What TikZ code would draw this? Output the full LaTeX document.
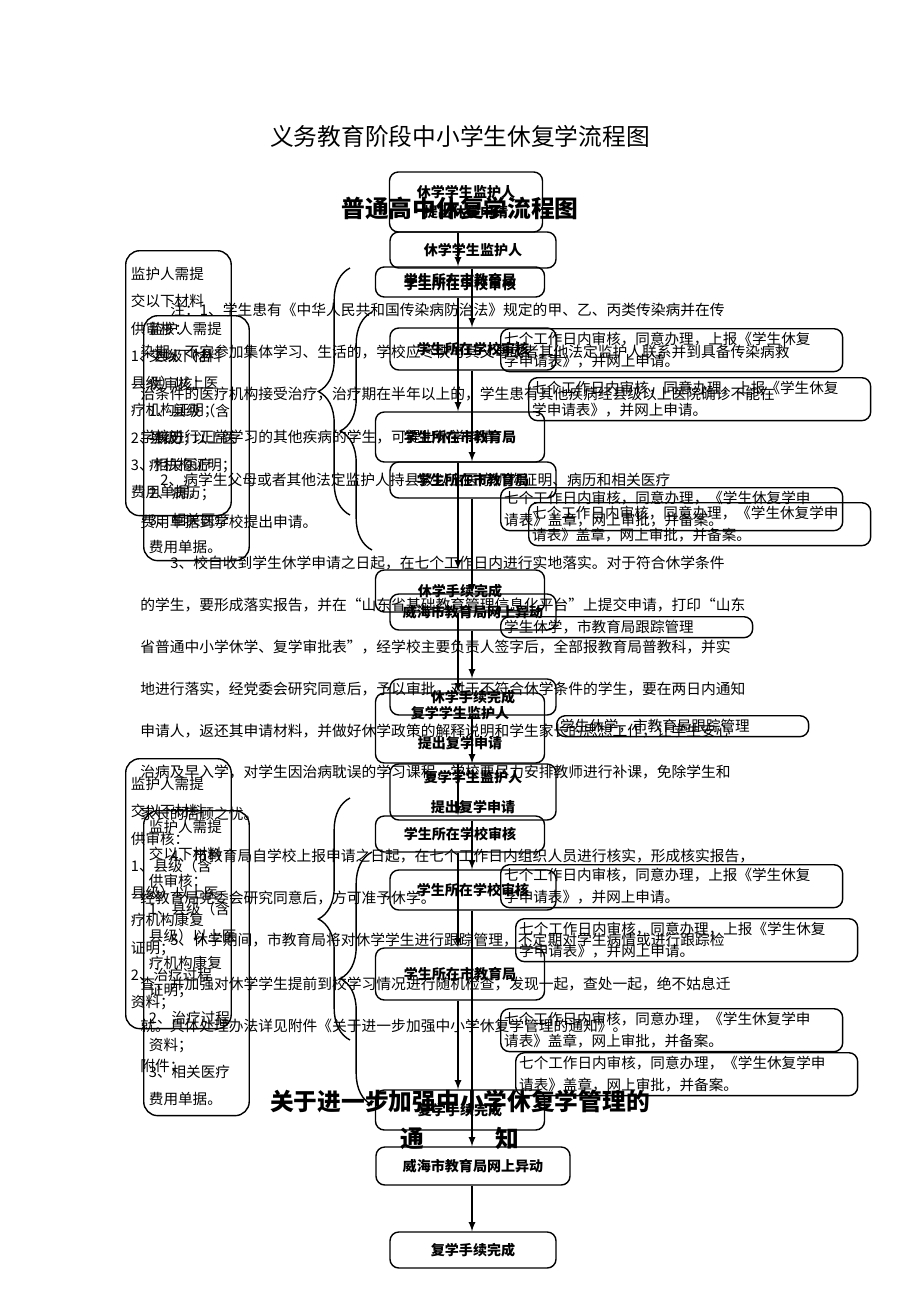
\documentclass[tikz,border=0pt]{standalone}
\usepackage{fontspec}
\setmainfont{Noto Sans CJK SC}
\usetikzlibrary{decorations.pathreplacing}
\tikzset{
  box/.style={draw, thick, rounded corners=5pt, inner sep=1pt, align=center,
    font=\fontsize{8}{11}\selectfont\bfseries},
  note/.style={draw, thick, rounded corners=5pt, inner sep=2pt, align=left,
    anchor=north west, font=\fontsize{8.3}{12.5}\selectfont},
  side/.style={draw, thick, rounded corners=8pt, anchor=north west, align=left,
    inner sep=3pt, text width=1.9cm, font=\fontsize{8.3}{15.5}\selectfont},
  para/.style={anchor=west, inner sep=0pt, font=\fontsize{8.4}{10}\selectfont},
  arr/.style={thick, -latex},
  brc/.style={thick, decorate, decoration={brace, amplitude=18pt}}
}
\newcommand\flowbox[6]{\node[box, minimum width=#4*0.02cm, minimum height=#5*0.02cm] (#1) at (#2,#3) {#6};}
\begin{document}
\begin{tikzpicture}[x=0.02cm, y=-0.02cm]
  \useasboundingbox (0,0) rectangle (920,1302);
  % titles
  \node[font=\fontsize{13.5}{15}\selectfont] (t1) at (460,136) {义务教育阶段中小学生休复学流程图};
  \node[font=\fontsize{13.5}{15}\selectfont\bfseries] (t2) at (460,208) {普通高中休复学流程图};

  % paragraph
  \node[para] (p1) at (170,310) {注：1、学生患有《中华人民共和国传染病防治法》规定的甲、乙、丙类传染病并在传};
  \node[para] (p2) at (140,352) {染期，不宜参加集体学习、生活的，学校应尽快与其父母或者其他法定监护人联系并到具备传染病救};
  \node[para] (p3) at (140,394) {治条件的医疗机构接受治疗，治疗期在半年以上的，学生患有其他疾病经县级以上医院确诊不能在};
  \node[para] (p4) at (140,437) {学校进行正常学习的其他疾病的学生，可提出休学申请};
  \node[para] (p5) at (160,480) {2、病学生父母或者其他法定监护人持县级以上医疗机构证明、病历和相关医疗};
  \node[para] (p6) at (140,522) {费用单据到学校提出申请。};
  \node[para] (p7) at (170,563) {3、校自收到学生休学申请之日起，在七个工作日内进行实地落实。对于符合休学条件};
  \node[para] (p8) at (140,605) {的学生，要形成落实报告，并在“山东省基础教育管理信息化平台”上提交申请，打印“山东};
  \node[para] (p9) at (140,647) {省普通中小学休学、复学审批表”，经学校主要负责人签字后，全部报教育局普教科，并实};
  \node[para] (p10) at (140,689) {地进行落实，经党委会研究同意后，予以审批。对于不符合休学条件的学生，要在两日内通知};
  \node[para] (p11) at (140,731) {申请人，返还其申请材料，并做好休学政策的解释说明和学生家长的思想工作，让学生安心};
  \node[para] (p12) at (140,772) {治病及早入学，对学生因治病耽误的学习课程，学校要尽力安排教师进行补课，免除学生和};
  \node[para] (p13) at (140,814) {家长的后顾之忧。};
  \node[para] (p14) at (170,856) {4、市教育局自学校上报申请之日起，在七个工作日内组织人员进行核实，形成核实报告，};
  \node[para] (p15) at (140,898) {经教育局党委会研究同意后，方可准予休学。};
  \node[para] (p16) at (170,940) {5、休学期间，市教育局将对休学学生进行跟踪管理，不定期对学生病情或进行跟踪检};
  \node[para] (p17) at (140,984) {查，并加强对休学学生提前到校学习情况进行随机检查，发现一起，查处一起，绝不姑息迁};
  \node[para] (p18) at (140,1026) {就。具体处理办法详见附件《关于进一步加强中小学休复学管理的通知》。};
  \node[para] (p19) at (140,1066) {附件：};
  \node[font=\fontsize{13.5}{15}\selectfont\bfseries] (t3) at (460,1101) {关于进一步加强中小学休复学管理的};
  \node[font=\fontsize{13.5}{15}\selectfont\bfseries] (t4) at (460,1138) {通\hspace{3em}知};

  % flow boxes
  \flowbox{a1}{466}{202}{153}{60}{休学学生监护人\\提出休学申请}
  \flowbox{b1}{473}{250}{166}{36}{休学学生监护人}
  \flowbox{a2}{460}{282}{169}{30}{学生所在市教育局\\[-9pt]学生所在学校审核}
  \flowbox{b2}{473}{349}{166}{42}{学生所在学校审核}
  \flowbox{a3}{460}{437}{169}{50}{学生所在市教育局}
  \flowbox{b3}{473}{480}{166}{36}{学生所在市教育局}
  \flowbox{a4}{460}{591}{169}{42}{休学手续完成}
  \flowbox{b4}{473}{612}{166}{36}{威海市教育局网上异动}
  \flowbox{b5}{473}{697}{166}{36}{休学手续完成}
  \flowbox{a5}{460}{728}{169}{70}{复学学生监护人\\[6pt]提出复学申请}
  \flowbox{b6}{473}{792}{166}{56}{复学学生监护人\\[6pt]提出复学申请}
  \flowbox{a6}{460}{834}{169}{36}{学生所在学校审核}
  \flowbox{b7}{473}{890}{166}{40}{学生所在学校审核}
  \flowbox{a7}{460}{974}{169}{52}{学生所在市教育局}
  \flowbox{a8}{460}{1110}{169}{40}{复学手续完成}
  \flowbox{b8}{473}{1166}{194}{38}{威海市教育局网上异动}
  \flowbox{b9}{473}{1250}{166}{36}{复学手续完成}

  % connectors
  \coordinate (ca) at (458,0);
  \coordinate (cb) at (472,0);
  \foreach \u/\v in {a1/a2,a2/a3,a3/a4,a4/a5,a5/a6,a6/a7,a7/a8}
    \draw[arr] (\u.south -| ca) -- (\v.north -| ca);
  \foreach \u/\v in {b1/b2,b2/b3,b3/b4,b4/b5,b5/b6,b6/b7,b7/b8,b8/b9}
    \draw[arr] (\u.south -| cb) -- (\v.north -| cb);

  % notes on the right
  \node[note, text width=6.7cm] (n1) at (500,328) {七个工作日内审核，同意办理，上报《学生休复\\学申请表》，并网上申请。};
  \node[note, text width=6.7cm] (n2) at (528,377) {七个工作日内审核，同意办理，上报《学生休复\\学申请表》，并网上申请。};
  \node[note, text width=6.7cm] (n3) at (500,487) {七个工作日内审核，同意办理，《学生休复学申\\请表》盖章，网上审批，并备案。};
  \node[note, text width=6.7cm] (n4) at (528,502) {七个工作日内审核，同意办理，《学生休复学申\\请表》盖章，网上审批，并备案。};
  \node[note, text width=4.9cm] (n5) at (500,616) {学生休学，市教育局跟踪管理};
  \node[note, text width=4.9cm] (n6) at (556,715) {学生休学，市教育局跟踪管理};
  \node[note, text width=6.7cm] (n7) at (500,864) {七个工作日内审核，同意办理，上报《学生休复\\学申请表》，并网上申请。};
  \node[note, text width=6.7cm] (n8) at (515,918) {七个工作日内审核，同意办理，上报《学生休复\\学申请表》，并网上申请。};
  \node[note, text width=6.7cm] (n9) at (500,1008) {七个工作日内审核，同意办理，《学生休复学申\\请表》盖章，网上审批，并备案。};
  \node[note, text width=6.7cm] (n10) at (515,1052) {七个工作日内审核，同意办理，《学生休复学申\\请表》盖章，网上审批，并备案。};

  % material lists on the left
  \node[side, minimum height=5.3cm] (m1) at (125,250) {监护人需提\\交以下材料\\供审核：\\1、县级（含\\县级）以上医\\疗机构证明；\\2、病历；\\3、相关医疗\\费用单据。};
  \node[side, minimum height=4.9cm] (m2) at (143,315) {监护人需提\\交以下材料\\供审核：\\1、县级（含\\县级）以上医\\疗机构证明；\\2、病历；\\3、相关医疗\\费用单据。};
  \node[side, minimum height=5.4cm] (m3) at (125,758) {监护人需提\\交以下材料\\供审核：\\1、县级（含\\县级）以上医\\疗机构康复\\证明；\\2、治疗过程\\资料；};
  \node[side, minimum height=6.1cm] (m4) at (143,810) {监护人需提\\交以下材料\\供审核：\\1、县级（含\\县级）以上医\\疗机构康复\\证明；\\2、治疗过程\\资料；\\3、相关医疗\\费用单据。};

  % braces
  \draw[brc] (350,515) -- (350,268);
  \draw[brc] (372,550) -- (372,312);
  \draw[brc] (350,1040) -- (350,798);
  \draw[brc] (372,1105) -- (372,852);
\end{tikzpicture}
\end{document}
